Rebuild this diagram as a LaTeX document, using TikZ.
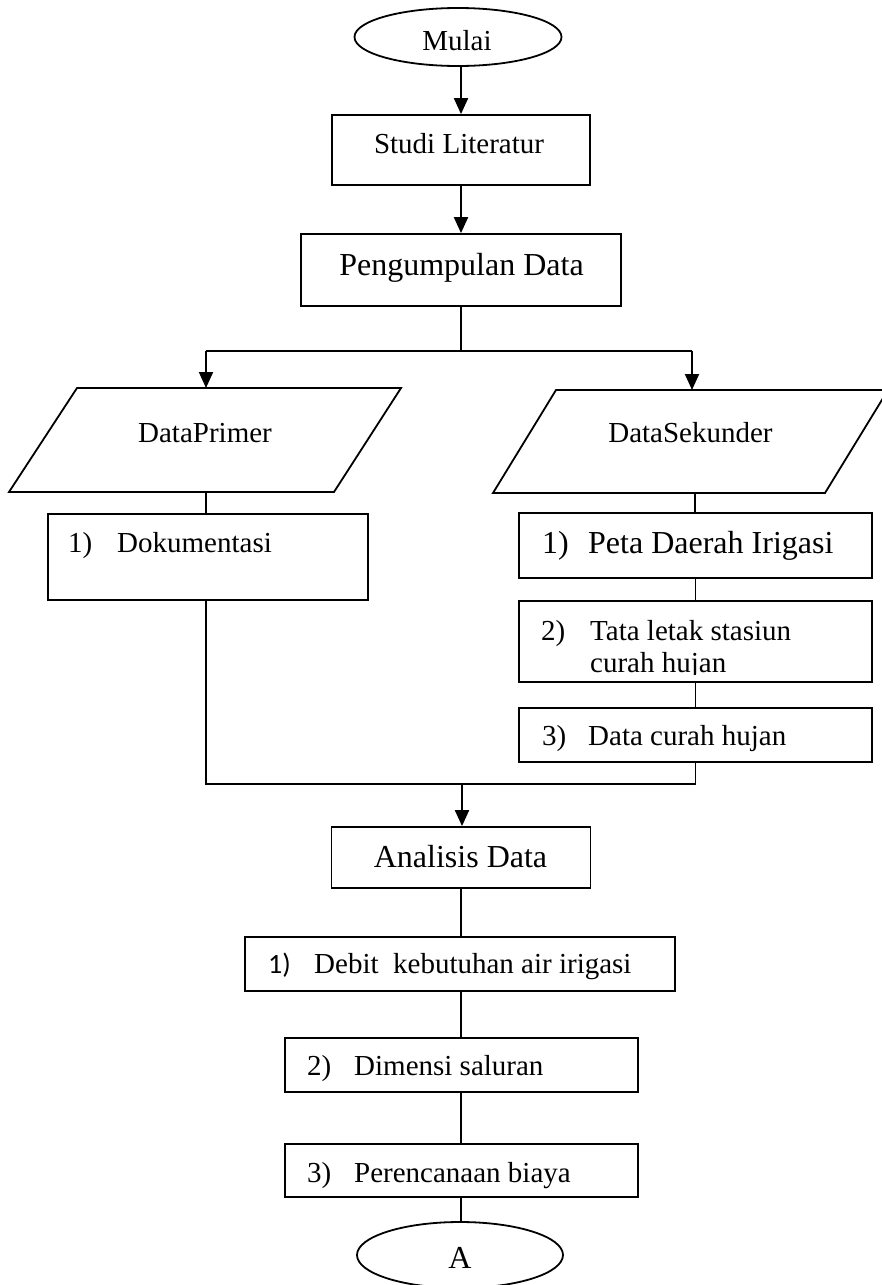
\documentclass[tikz,border=0pt]{standalone}
\usepackage{fontspec}
\setmainfont{Liberation Serif}
\newfontfamily\calfont{Carlito}
\usetikzlibrary{arrows.meta,shapes.geometric}
\newcommand\fsA{\fontsize{29}{34}\selectfont}
\newcommand\fsB{\fontsize{32}{38}\selectfont}
\begin{document}
\begin{tikzpicture}[x=1pt,y=-1pt,
  stepbox/.style={draw, line width=1.8pt, inner sep=0pt, rectangle},
  ovalbox/.style={draw, line width=1.8pt, inner sep=0pt, ellipse},
  shapeline/.style={line width=1.8pt, line join=miter},
  conn/.style={line width=1.3pt},
  arr/.style={line width=2pt, -{Triangle[length=16pt,width=14pt]}},
  lblA/.style={inner sep=0pt, font=\fsA, anchor=base},
  lblB/.style={inner sep=0pt, font=\fsB, anchor=base},
  lblAw/.style={inner sep=0pt, font=\fsA, anchor=base west},
  lblBw/.style={inner sep=0pt, font=\fsB, anchor=base west}]
\useasboundingbox (0,0) rectangle (882,1285);
\clip (0,0) rectangle (882,1285);

% start
\node[ovalbox, minimum width=207pt, minimum height=58pt] (mulai) at (458,37) {};
\node[lblA] (mulaiT) at (457,50) {Mulai};

% Studi Literatur
\node[stepbox, minimum width=258pt, minimum height=70pt] (studi) at (461,150) {};
\node[lblA] (studiT) at (459,153) {Studi Literatur};

% Pengumpulan Data
\node[stepbox, minimum width=320pt, minimum height=72pt] (peng) at (461,270) {};
\node[lblB] (pengT) at (461.5,275) {Pengumpulan Data};

% split
\coordinate (split) at (461,351);
\coordinate (splitL) at (206,351);
\coordinate (splitR) at (692,351);

% Data Primer parallelogram
\coordinate (dpTop) at (206,388);
\coordinate (dpBot) at (206,492);
\draw[shapeline] (77,388) -- (401,388) -- (334,492) -- (9,492) -- cycle;
\node[lblA] (dpT) at (205,442) {DataPrimer};

% Data Sekunder parallelogram
\coordinate (dsTop) at (692,390);
\coordinate (dsBot) at (695,493);
\draw[shapeline] (556,390) -- (888,390) -- (825,493) -- (493,493) -- cycle;
\node[lblA] (dsT) at (690.5,442) {DataSekunder};

% Dokumentasi
\node[stepbox, minimum width=320pt, minimum height=86pt] (dok) at (208,557) {};
\node[lblAw] (dokN) at (68,552) {1)};
\node[lblAw] (dokT) at (117,552) {Dokumentasi};

% Sekunder list
\node[stepbox, minimum width=353pt, minimum height=65pt] (peta) at (695.5,545.5) {};
\node[lblBw] (petaN) at (542,553) {1)};
\node[lblBw] (petaT) at (588,553) {Peta Daerah Irigasi};

\node[stepbox, minimum width=353pt, minimum height=81pt] (tata) at (695.5,641.5) {};
\node[lblAw] (tataN) at (541,640) {2)};
\node[lblAw] (tataT) at (590,640) {Tata letak stasiun};
\begin{scope}
\clip (519,601) rectangle (872,674);
\node[lblAw] (tataT2) at (590,672) {curah hujan};
\end{scope}

\node[stepbox, minimum width=353pt, minimum height=54pt] (dch) at (695.5,735) {};
\node[lblAw] (dchN) at (542,745) {3)};
\node[lblAw] (dchT) at (588,745) {Data curah hujan};

% join
\coordinate (joinL) at (206,784);
\coordinate (joinR) at (695.5,784);
\coordinate (joinM) at (462,784);

% Analisis Data
\node[stepbox, minimum width=259pt, minimum height=61pt] (anal) at (461,857.5) {};
\node[lblB] (analT) at (460.5,867) {Analisis Data};

\node[stepbox, minimum width=430pt, minimum height=54pt] (debit) at (460,964) {};
\node[inner sep=0pt, font={\calfont\fontsize{28}{34}\selectfont}, anchor=base west] (debitN) at (268,973) {1)};
\node[lblAw] (debitT) at (314,973) {Debit\ \ kebutuhan air irigasi};

\node[stepbox, minimum width=353pt, minimum height=54pt] (dim) at (461.5,1065) {};
\node[lblAw] (dimN) at (307,1075) {2)};
\node[lblAw] (dimT) at (354,1075) {Dimensi saluran};

\node[stepbox, minimum width=353pt, minimum height=53pt] (per) at (461.5,1170.5) {};
\node[lblAw] (perN) at (307,1182) {3)};
\node[lblAw] (perT) at (354,1182) {Perencanaan biaya};

% end
\node[ovalbox, minimum width=206pt, minimum height=66pt] (A) at (460,1255) {};
\node[lblB] (AT) at (460,1268) {A};

% connectors
\draw[arr] (mulai.south -| studi.north) -- (studi.north);
\draw[arr] (studi.south) -- (peng.north);
\draw[conn] (peng.south) -- (split);
\draw[conn] (splitL) -- (splitR);
\draw[arr] (splitL) -- (dpTop);
\draw[arr] (splitR) -- (dsTop);
\draw[conn] (dpBot) -- (dpBot |- dok.north);
\draw[conn] (dsBot) -- (dsBot |- peta.north);
\draw[conn] (peta.south) -- (tata.north);
\draw[conn] (tata.south) -- (dch.north);
\draw[conn] (dok.south -| joinL) -- (joinL) -- (joinR) -- (dch.south);
\draw[arr] (joinM) -- (joinM |- anal.north);
\draw[conn] (anal.south) -- (anal.south |- debit.north);
\draw[conn] (anal.south |- debit.south) -- (anal.south |- dim.north);
\draw[conn] (anal.south |- dim.south) -- (anal.south |- per.north);
\draw[conn] (anal.south |- per.south) -- (anal.south |- A.north);
\end{tikzpicture}
\end{document}
